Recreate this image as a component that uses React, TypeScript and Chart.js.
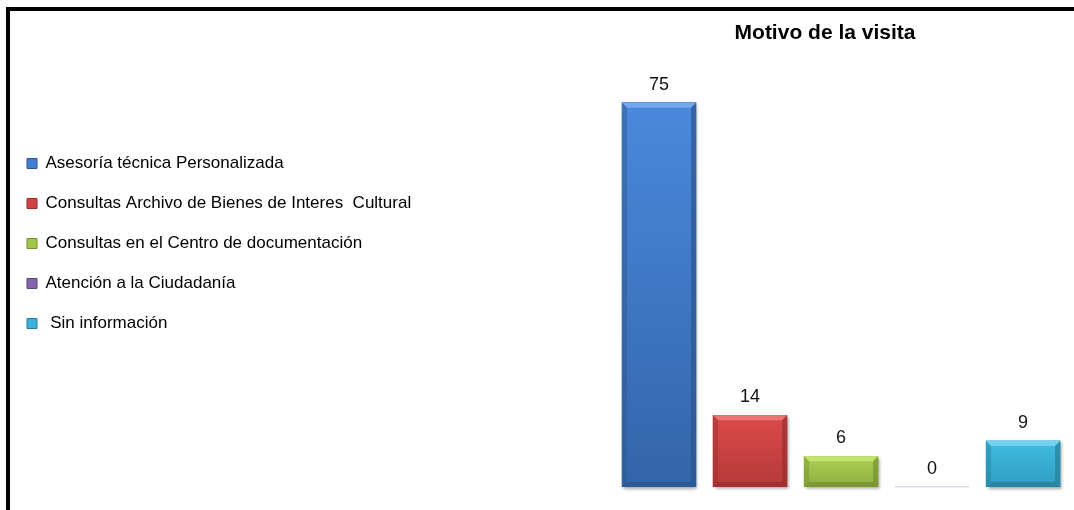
import React, { useEffect, useRef } from "react";
import { Chart, registerables } from "chart.js";

Chart.register(...registerables);

const title = "Motivo de la visita";
const categories = [
  "Asesoría técnica Personalizada",
  "Consultas Archivo de Bienes de Interes  Cultural",
  "Consultas en el Centro de documentación",
  "Atención a la Ciudadanía",
  " Sin información",
];
const values = [75, 14, 6, 0, 9];
const baseColors = ["#4180d0", "#d24343", "#a2c74d", "#8466ac", "#38b2d6"];
const topColors = ["#4a89dc", "#dc4a4a", "#abd255", "#8f71b8", "#40bee2"];
const bottomColors = ["#3464aa", "#b53939", "#8eae3e", "#6d5393", "#2f9cbf"];
const lightColors = ["#7aaef0", "#f07a7a", "#c6e67a", "#b098d4", "#7ad6f0"];
const darkColors = ["#2c568f", "#9a2f2f", "#76912f", "#5a447a", "#267f9c"];

const FONT = '"Liberation Sans", Arial, sans-serif';
const PAD_LEFT = 4;
const PLOT_LEFT = 578;

const bevelPlugin = {
  id: "bevelBars",
  afterDatasetsDraw(chart: any) {
    const ctx = chart.ctx;
    const meta = chart.getDatasetMeta(0);
    meta.data.forEach((el: any, i: number) => {
      const p = el.getProps(["x", "y", "base", "width"], true);
      const left = p.x - p.width / 2;
      const right = p.x + p.width / 2;
      const top = Math.min(p.y, p.base);
      const bottom = Math.max(p.y, p.base);
      const h = bottom - top;
      if (h >= 1) {
        const b = Math.min(5, h / 3);
        ctx.save();
        ctx.shadowColor = "rgba(0,0,0,0.35)";
        ctx.shadowBlur = 3;
        ctx.shadowOffsetX = 1.5;
        ctx.shadowOffsetY = 1.5;
        const g = ctx.createLinearGradient(0, top, 0, bottom);
        g.addColorStop(0, topColors[i]);
        g.addColorStop(1, bottomColors[i]);
        ctx.fillStyle = g;
        ctx.fillRect(left, top, p.width, h);
        ctx.restore();
        ctx.save();
        ctx.fillStyle = lightColors[i];
        ctx.globalAlpha = 0.85;
        ctx.beginPath();
        ctx.moveTo(left, top);
        ctx.lineTo(right, top);
        ctx.lineTo(right - b, top + b);
        ctx.lineTo(left + b, top + b);
        ctx.closePath();
        ctx.fill();
        ctx.globalAlpha = 0.45;
        ctx.fillStyle = darkColors[i];
        ctx.beginPath();
        ctx.moveTo(left, top);
        ctx.lineTo(left + b, top + b);
        ctx.lineTo(left + b, bottom - b);
        ctx.lineTo(left, bottom);
        ctx.closePath();
        ctx.fill();
        ctx.globalAlpha = 0.7;
        ctx.beginPath();
        ctx.moveTo(right, top);
        ctx.lineTo(right - b, top + b);
        ctx.lineTo(right - b, bottom - b);
        ctx.lineTo(right, bottom);
        ctx.closePath();
        ctx.fill();
        ctx.globalAlpha = 0.8;
        ctx.beginPath();
        ctx.moveTo(left, bottom);
        ctx.lineTo(left + b, bottom - b);
        ctx.lineTo(right - b, bottom - b);
        ctx.lineTo(right, bottom);
        ctx.closePath();
        ctx.fill();
        ctx.restore();
      } else {
        ctx.save();
        ctx.strokeStyle = "rgba(0,0,0,0.06)";
        ctx.lineWidth = 1;
        ctx.beginPath();
        ctx.moveTo(left, bottom + 0.5);
        ctx.lineTo(right, bottom + 0.5);
        ctx.stroke();
        ctx.restore();
      }
      ctx.save();
      ctx.fillStyle = "#111111";
      ctx.font = `18px ${FONT}`;
      ctx.textAlign = "center";
      ctx.textBaseline = "middle";
      ctx.fillText(String(values[i]), p.x, top - 18);
      ctx.restore();
    });
  },
};

export default function App() {
  const ref = useRef<HTMLCanvasElement | null>(null);

  useEffect(() => {
    document.body.style.margin = "0";
    document.body.style.overflow = "hidden";
    const canvas = ref.current;
    if (!canvas) return;
    const chart = new Chart(canvas, {
      type: "bar",
      data: {
        labels: categories,
        datasets: [
          {
            label: title,
            data: values.map((v, i) => ({ x: i, y: v })),
            backgroundColor: baseColors,
            borderWidth: 0,
            barThickness: 74,
          },
        ],
      },
      options: {
        responsive: false,
        animation: false,
        layout: { padding: { left: PAD_LEFT, top: 0, right: 2, bottom: 23 } },
        scales: {
          x: {
            type: "linear",
            display: false,
            offset: false,
            min: -0.89,
            max: 4.538,
          },
          y: {
            min: 0,
            max: 80,
            display: false,
            afterFit: (axis: any) => {
              const lw = axis.chart && axis.chart.legend ? axis.chart.legend.width || 0 : 0;
              axis.width = Math.max(0, PLOT_LEFT - PAD_LEFT - lw);
            },
          },
        },
        plugins: {
          title: {
            display: true,
            text: title,
            fullSize: false,
            color: "#000000",
            font: { family: FONT, size: 21, weight: "bold" },
            padding: { top: 20.9, bottom: 30.9 },
          },
          legend: {
            display: true,
            position: "left",
            align: "center",
            labels: {
              boxWidth: 10,
              boxHeight: 10,
              padding: 23,
              color: "#111111",
              font: { family: FONT, size: 17 },
              generateLabels: () =>
                categories.map((c, i) => ({
                  text: c,
                  fillStyle: baseColors[i],
                  strokeStyle: darkColors[i],
                  lineWidth: 1,
                  hidden: false,
                  index: i,
                  datasetIndex: 0,
                })),
            },
          },
          tooltip: { enabled: false },
        },
      },
      plugins: [bevelPlugin],
    } as any);
    return () => chart.destroy();
  }, []);

  return (
    <div style={{ position: "relative", width: 1074, height: 510, background: "#ffffff" }}>
      <canvas ref={ref} width={1074} height={510} style={{ display: "block" }} />
      <div
        style={{
          position: "absolute",
          left: 6,
          top: 7,
          width: 1068,
          height: 503,
          boxSizing: "border-box",
          borderTop: "4px solid #000",
          borderLeft: "4px solid #000",
          pointerEvents: "none",
        }}
      />
    </div>
  );
}
